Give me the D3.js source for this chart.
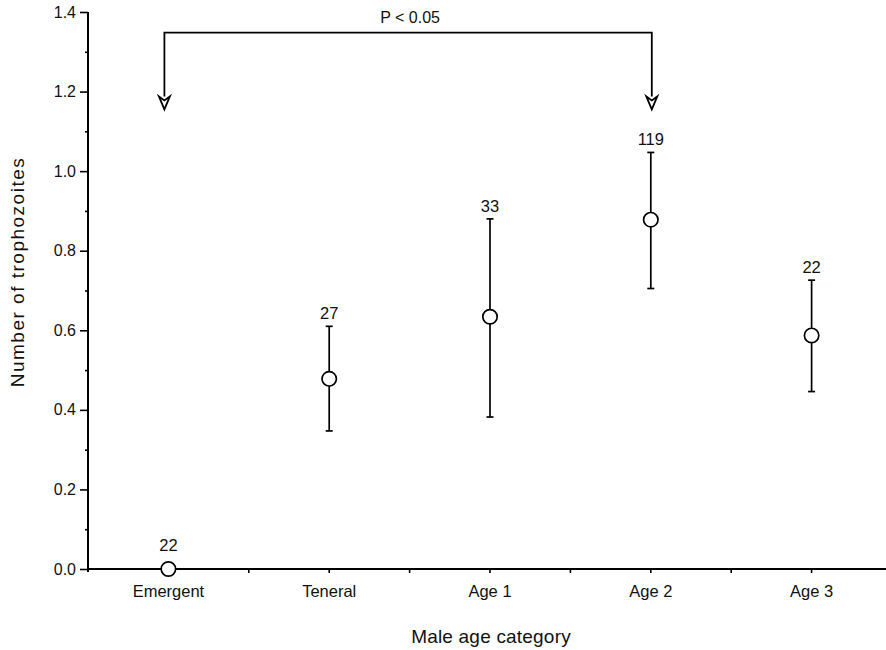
<!DOCTYPE html>
<meta charset="utf-8">
<script src="https://d3js.org/d3.v7.min.js"></script>
<style>
    body { margin: 0; background: #fff; }
    text { font-family: "Liberation Sans", Arial, sans-serif; fill: #111; }
</style>
<div id="vis"></div>
<script>

    // data
    var categories = ["Emergent", "Teneral", "Age 1", "Age 2", "Age 3"];
    var means = [0, 0.478, 0.634, 0.878, 0.587];
    var upper = [null, 0.610, 0.880, 1.047, 0.726];
    var lower = [null, 0.347, 0.382, 0.705, 0.446];
    var sampleSizes = ["22", "27", "33", "119", "22"];
    var yTicks = [0, 0.2, 0.4, 0.6, 0.8, 1.0, 1.2, 1.4];
    var yMinorTicks = [0.1, 0.3, 0.5, 0.7, 0.9, 1.1, 1.3];

    // significance bracket between Emergent and Age 2
    var bracketFrom = "Emergent", bracketTo = "Age 2";
    var bracketLevel = 1.348, arrowTip = 1.155, bracketLabel = "P < 0.05";

    var width = 886, height = 650;

    var svg = d3.select("#vis")
        .append("svg")
        .attr("width", width)
        .attr("height", height);

    // scales
    var x = d3.scaleBand()
        .domain(categories)
        .range([88, 892]);
    var y = d3.scaleLinear()
        .domain([0, 1.4])
        .range([569, 12]);

    var cx = function (c) { return x(c) + x.bandwidth() / 2; };

    // y axis with major + minor ticks
    var yAxis = svg.append("g")
        .attr("transform", "translate(88,0)")
        .attr("font-size", 16)
        .call(d3.axisLeft(y).tickValues(yTicks).tickSize(8).tickPadding(4)
            .tickFormat(d3.format(".1f")));
    yAxis.attr("font-size", 16).attr("font-family", null);
    yAxis.select(".domain").attr("stroke-width", 2).attr("d", "M0," + (y(0) + 3) + "V" + y(1.4));
    yAxis.selectAll(".tick line").attr("stroke-width", 1.6);
    yAxis.selectAll("text").style("font-size", "16px").style("fill", "#111");

    svg.append("g")
        .attr("transform", "translate(88,0)")
        .call(d3.axisLeft(y).tickValues(yMinorTicks).tickSize(3).tickFormat(""))
        .call(function (g) { g.select(".domain").remove(); })
        .selectAll(".tick line").attr("stroke-width", 1.6);

    // x axis: ticks at category centres, plus ticks on the band edges
    var xAxis = svg.append("g")
        .attr("transform", "translate(0," + y(0) + ")")
        .call(d3.axisBottom(x).tickSize(4).tickPadding(12));
    xAxis.attr("font-size", 16.5).attr("font-family", null);
    xAxis.select(".domain").attr("stroke-width", 2).attr("d", "M88,0H886");
    xAxis.selectAll(".tick line").attr("stroke-width", 1.6);
    xAxis.selectAll("text").style("font-size", "16.5px").style("fill", "#111");

    svg.append("g")
        .selectAll("line")
        .data(categories.slice(1))
        .enter()
        .append("line")
        .attr("x1", function (d) { return x(d); })
        .attr("x2", function (d) { return x(d); })
        .attr("y1", y(0))
        .attr("y2", y(0) + 4)
        .attr("stroke", "#000")
        .attr("stroke-width", 1.6);

    // axis titles
    svg.append("text")
        .attr("x", 491)
        .attr("y", 643)
        .attr("text-anchor", "middle")
        .style("font-size", "19px")
        .style("letter-spacing", "0.2px")
        .text("Male age category");

    svg.append("text")
        .attr("transform", "translate(24,272) rotate(-90)")
        .attr("text-anchor", "middle")
        .style("font-size", "19px")
        .style("letter-spacing", "1.5px")
        .text("Number of trophozoites");

    var rows = categories.map(function (c, i) {
        return { cat: c, mean: means[i], hi: upper[i], lo: lower[i], n: sampleSizes[i] };
    });

    // error bars
    var bars = svg.append("g")
        .selectAll("g")
        .data(rows.filter(function (d) { return d.hi != null; }))
        .enter()
        .append("g");
    bars.append("line")
        .attr("x1", function (d) { return cx(d.cat); })
        .attr("x2", function (d) { return cx(d.cat); })
        .attr("y1", function (d) { return y(d.hi); })
        .attr("y2", function (d) { return y(d.lo); })
        .attr("stroke", "#000")
        .attr("stroke-width", 1.7);
    bars.selectAll(".cap")
        .data(function (d) { return [d.hi, d.lo].map(function (v) { return { cat: d.cat, v: v }; }); })
        .enter()
        .append("line")
        .attr("class", "cap")
        .attr("x1", function (d) { return cx(d.cat) - 3.5; })
        .attr("x2", function (d) { return cx(d.cat) + 3.5; })
        .attr("y1", function (d) { return y(d.v); })
        .attr("y2", function (d) { return y(d.v); })
        .attr("stroke", "#000")
        .attr("stroke-width", 1.7);

    // mean points
    svg.append("g")
        .selectAll("circle")
        .data(rows)
        .enter()
        .append("circle")
        .attr("cx", function (d) { return cx(d.cat); })
        .attr("cy", function (d) { return y(d.mean); })
        .attr("r", 7.2)
        .attr("fill", "#fff")
        .attr("stroke", "#000")
        .attr("stroke-width", 1.7);

    // sample sizes
    svg.append("g")
        .selectAll("text")
        .data(rows)
        .enter()
        .append("text")
        .attr("x", function (d) { return cx(d.cat); })
        .attr("y", function (d) { return d.hi != null ? y(d.hi) - 7 : y(d.mean) - 18; })
        .attr("text-anchor", "middle")
        .style("font-size", "16.5px")
        .text(function (d) { return d.n; });

    // bracket with open arrowheads
    var xa = cx(bracketFrom) - 4, xb = cx(bracketTo) + 1;
    var headTop = y(arrowTip) - 13;
    svg.append("path")
        .attr("d", "M" + xa + "," + headTop + "V" + y(bracketLevel) + "H" + xb + "V" + headTop)
        .attr("fill", "none")
        .attr("stroke", "#000")
        .attr("stroke-width", 1.8);
    [xa, xb].forEach(function (ax) {
        svg.append("path")
            .attr("d", "M" + (ax - 5.5) + "," + headTop + "L" + ax + "," + y(arrowTip) +
                "L" + (ax + 5.5) + "," + headTop + "L" + ax + "," + (headTop + 4) + "Z")
            .attr("fill", "#fff")
            .attr("stroke", "#000")
            .attr("stroke-width", 1.8)
            .attr("stroke-linejoin", "miter");
    });
    svg.append("text")
        .attr("x", (xa + xb) / 2 + 2)
        .attr("y", 23)
        .attr("text-anchor", "middle")
        .style("font-size", "16px")
        .text(bracketLabel);

</script>
